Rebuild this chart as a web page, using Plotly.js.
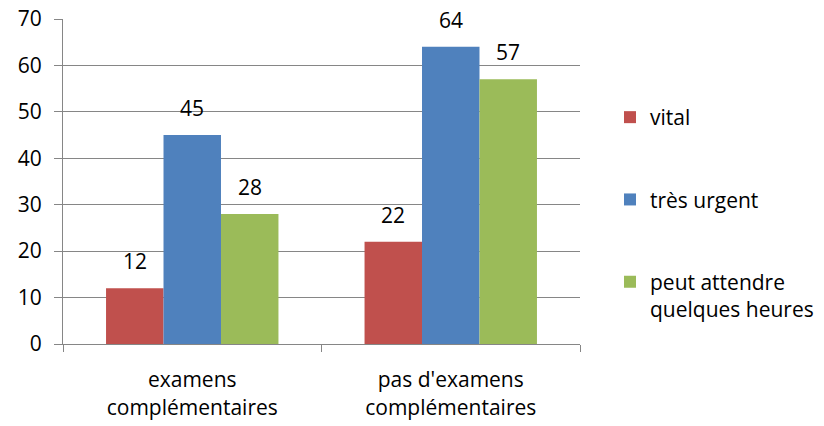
<!DOCTYPE html>
<html><head><meta charset="utf-8">
<script src="https://cdn.plot.ly/plotly-3.0.1.min.js"></script>
<style>html,body{margin:0;padding:0;background:#fff}</style>
</head><body>
<div id="chart" style="width:824px;height:426px"></div>
<script>
const categories = ["examens<br>complémentaires", "pas d'examens<br>complémentaires"];
const seriesNames = ["vital", "très urgent", "peut attendre<br>quelques heures"];
const vital = [12, 22];
const tresUrgent = [45, 64];
const peutAttendre = [28, 57];
const colors = ["#C0504D", "#4F81BD", "#9BBB59"];
const yTicks = [0, 10, 20, 30, 40, 50, 60, 70];

const font = "Open Sans, Liberation Sans, sans-serif";
const fs = 21;
const values = [vital, tresUrgent, peutAttendre];
const traces = values.map((v, i) => ({
  type: "bar",
  x: categories,
  y: v,
  name: seriesNames[i],
  legendgroup: "g" + i,
  marker: {color: colors[i]},
  hoverinfo: "skip"
}));

const barPx = 57.5;
const annotations = [];
values.forEach((v, i) => {
  v.forEach((val, j) => {
    annotations.push({
      x: categories[j], y: val, xref: "x", yref: "y",
      text: String(val), showarrow: false,
      xshift: (i - 1) * barPx, yshift: 27,
      font: {family: font, size: fs, color: "#000"}
    });
  });
});

const layout = {
  width: 824, height: 426,
  margin: {l: 63, r: 244, t: 19, b: 82, autoexpand: false},
  paper_bgcolor: "#fff", plot_bgcolor: "#fff",
  barmode: "group", bargap: 0.333, bargroupgap: 0,
  font: {family: font, size: fs, color: "#000"},
  annotations: annotations,
  xaxis: {
    showline: true, linecolor: "#868686", linewidth: 1,
    ticks: "outside", tickson: "boundaries", ticklen: 7, tickcolor: "#868686",
    tickfont: {family: font, size: fs, color: "#000"},
    ticklabelstandoff: 17,
    showgrid: false
  },
  yaxis: {
    range: [0, 70], tickvals: yTicks,
    showline: true, linecolor: "#868686", linewidth: 1,
    ticks: "outside", ticklen: 8, tickcolor: "#868686",
    gridcolor: "#868686", gridwidth: 1,
    tickfont: {family: font, size: fs, color: "#000"},
    ticklabelstandoff: 8,
    zeroline: false
  },
  legend: {
    x: 1.058, xanchor: "left", xref: "paper",
    y: 0.76, yanchor: "top",
    traceorder: "grouped", tracegroupgap: 52,
    valign: "top",
    font: {family: font, size: fs, color: "#000"},
    itemwidth: 30
  },
  showlegend: true
};

Plotly.newPlot("chart", traces, layout, {displayModeBar: false, staticPlot: true});
</script>
</body></html>
